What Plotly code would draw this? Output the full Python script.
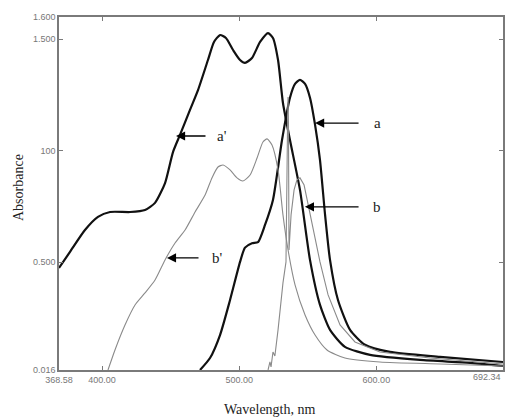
import plotly.graph_objects as go

# ---- data (wavelength nm, absorbance) ----
a_prime_wl = [368.58, 376.6, 387.5, 397.0, 405.8, 420.4, 431.3, 438.6, 445.9, 451.7, 456.8, 464.1, 470.0,
              477.2, 481.6, 486.0, 490.3, 495.5, 500.6, 504.2, 509.3, 515.2, 521.0, 524.6, 528.3, 531.9,
              537.0, 544.3, 551.6, 558.9, 566.2, 577.1, 595.4, 631.8, 668.3, 692.34]
a_prime_abs = [0.474, 0.546, 0.644, 0.703, 0.725, 0.725, 0.734, 0.766, 0.855, 0.994, 1.071, 1.183, 1.273,
               1.407, 1.488, 1.519, 1.506, 1.452, 1.407, 1.394, 1.416, 1.488, 1.528, 1.506, 1.407, 1.214,
               1.048, 0.824, 0.510, 0.308, 0.196, 0.120, 0.084, 0.061, 0.048, 0.034]

a_wl = [471.4, 478.7, 486.0, 493.3, 500.6, 504.2, 509.3, 513.7, 518.8, 524.6, 531.2, 537.0, 540.7, 544.3,
        548.0, 551.6, 555.3, 558.9, 562.6, 566.2, 572.0, 580.8, 591.7, 609.9, 646.4, 692.34]
a_abs = [0.016, 0.070, 0.173, 0.330, 0.501, 0.565, 0.585, 0.590, 0.667, 0.779, 1.048, 1.238, 1.300, 1.318,
         1.300, 1.238, 1.116, 0.958, 0.712, 0.510, 0.330, 0.196, 0.129, 0.097, 0.075, 0.052]

b_prime_wl = [404.3, 409.4, 416.7, 424.0, 431.3, 438.6, 445.9, 453.2, 460.5, 467.8, 475.1, 480.1, 484.5,
              488.2, 493.3, 498.4, 502.7, 507.9, 513.0, 517.3, 520.3, 523.9, 528.3, 531.9, 535.6, 540.7,
              548.0, 555.3, 564.0, 577.1, 602.6, 646.4, 692.34]
b_prime_abs = [0.016, 0.106, 0.218, 0.308, 0.362, 0.420, 0.510, 0.586, 0.644, 0.725, 0.801, 0.878, 0.927,
               0.936, 0.914, 0.878, 0.864, 0.891, 0.967, 1.039, 1.053, 1.026, 0.914, 0.712, 0.555, 0.398,
               0.263, 0.173, 0.106, 0.070, 0.052, 0.043, 0.034]

b_wl = [521.0, 522.4, 523.2, 524.6, 526.0, 528.3, 531.9, 534.1, 535.2, 535.6, 535.9, 536.3, 537.8, 540.0,
        542.1, 544.3, 547.3, 550.2, 554.5, 558.9, 564.8, 573.5, 584.4, 602.6, 639.1, 692.34]
b_abs = [0.016, 0.052, 0.030, 0.097, 0.079, 0.196, 0.407, 0.501, 1.10, 1.241, 1.12, 0.555, 0.712, 0.824,
         0.869, 0.878, 0.846, 0.757, 0.622, 0.501, 0.353, 0.218, 0.142, 0.097, 0.070, 0.043]

x_tickvals = [368.58, 400, 500, 600, 692.34]
x_ticktext = ["368.58", "400.00", "500.00", "600.00", ""]
x_last_label = "692.34"
y_tickvals = [0.016, 0.5, 1.0, 1.5, 1.6]
y_ticktext = ["0.016", "0.500", "100", "1.500", "1.600"]

labels = ["a'", "a", "b'", "b"]
# arrow tip (x, y), tail x, label x
arrow_tip_x = [453.9, 555.3, 447.3, 547.9]
arrow_tip_y = [1.066, 1.124, 0.519, 0.748]
arrow_tail_x = [476.5, 588.1, 471.4, 588.1]
label_x = [487.4, 600.5, 483.8, 600.5]

fig = go.Figure()
thick = dict(color="#111111", width=2.2)
thin = dict(color="#8a8a8a", width=1.1)
fig.add_trace(go.Scatter(x=a_prime_wl, y=a_prime_abs, mode="lines", line=dict(**thick, shape="spline", smoothing=0.6)))
fig.add_trace(go.Scatter(x=a_wl, y=a_abs, mode="lines", line=dict(**thick, shape="spline", smoothing=0.6)))
fig.add_trace(go.Scatter(x=b_prime_wl, y=b_prime_abs, mode="lines", line=dict(**thin, shape="spline", smoothing=0.6)))
fig.add_trace(go.Scatter(x=b_wl, y=b_abs, mode="lines", line=dict(**thin)))

for lab, tx, ty, ax, lx in zip(labels, arrow_tip_x, arrow_tip_y, arrow_tail_x, label_x):
    fig.add_annotation(x=tx, y=ty, ax=ax, ay=ty, axref="x", ayref="y", xref="x", yref="y",
                       text="", showarrow=True, arrowhead=2, arrowsize=1.4, arrowwidth=1.3,
                       arrowcolor="black", standoff=0, startstandoff=0)
    fig.add_annotation(x=lx, y=ty, xref="x", yref="y", text=lab, showarrow=False,
                       font=dict(family="Liberation Serif", size=15, color="#222"), xanchor="center")

tickfont = dict(family="Liberation Sans Narrow, Liberation Sans", size=9, color="#777")
# last x tick label, right-aligned at the axis end
fig.add_annotation(x=692.34, y=-(377 - 370) / 353, xref="x", yref="paper", text=x_last_label,
                   showarrow=False, xanchor="right", yanchor="middle", font=tickfont)
# x axis title
fig.add_annotation(x=(270 - 59) / 444, y=-(409 - 370) / 353, xref="paper", yref="paper",
                   text="Wavelength, nm", showarrow=False, yanchor="middle",
                   font=dict(family="Liberation Serif", size=14, color="#222"))
# y axis title
fig.add_annotation(x=-(59 - 18) / 444, y=(370 - 188) / 353, xref="paper", yref="paper",
                   text="Absorbance", showarrow=False, textangle=-90, xanchor="center", yanchor="middle",
                   font=dict(family="Liberation Serif", size=14, color="#222"))

axis_common = dict(showgrid=False, zeroline=False, showline=True, linecolor="#7a7a7a", linewidth=1.5,
                   ticks="inside", ticklen=4, tickcolor="#7a7a7a", mirror="ticks", tickfont=tickfont)

# page body has an 8px default margin, so the figure is sized/offset to place the plot area
fig.update_layout(
    width=510, height=411,
    margin=dict(l=51, r=15, t=9, b=49, autoexpand=False),
    paper_bgcolor="white", plot_bgcolor="white",
    showlegend=False,
    xaxis=dict(range=[368.58, 692.34], tickvals=x_tickvals, ticktext=x_ticktext, **axis_common),
    yaxis=dict(range=[0.016, 1.6], tickvals=y_tickvals, ticktext=y_ticktext, **axis_common),
)

fig.write_html("out.html")
